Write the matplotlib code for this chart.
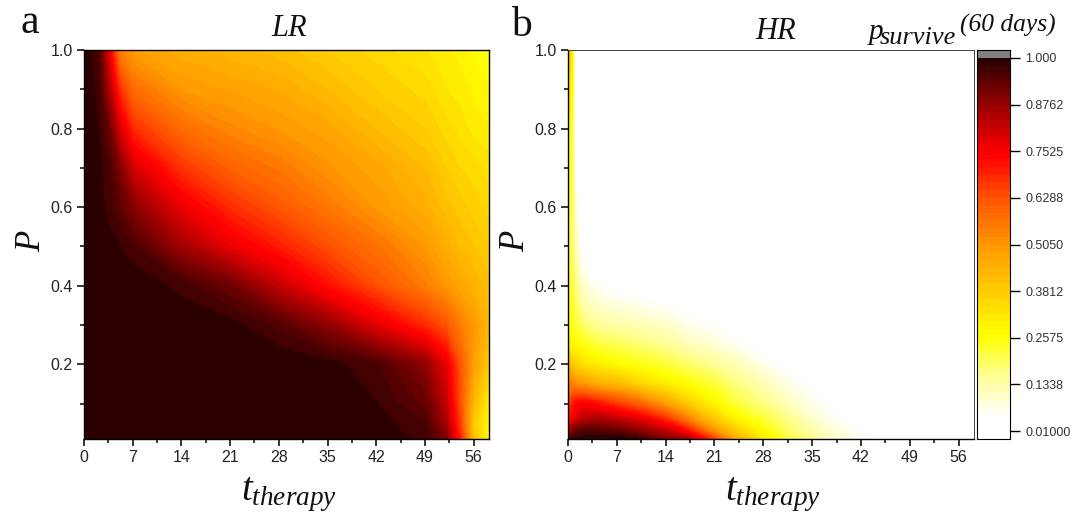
import numpy as np
import matplotlib
matplotlib.use("Agg")
import matplotlib.pyplot as plt
from matplotlib.colors import LinearSegmentedColormap, BoundaryNorm

plt.rcParams['font.family'] = ['Liberation Sans', 'DejaVu Sans']
plt.rcParams['mathtext.fontset'] = 'custom'
plt.rcParams['mathtext.it'] = 'Liberation Serif:italic'
plt.rcParams['mathtext.rm'] = 'Liberation Serif'

W, H = 1079, 519

# panel a, LR
lr_t = [0, 2, 3.5, 5, 7, 14, 21, 28, 35, 42, 49, 52, 54, 56, 58.2]
lr_p = [0.01, 0.05, 0.1, 0.2, 0.3, 0.4, 0.5, 0.6, 0.7, 0.8, 0.9, 1.0]
lr_surv = [
    [1, 1, 1, 1, 1, 1, 1, 1, 1, 1, .97, .90, .70, .40, .27],
    [1, 1, 1, 1, 1, 1, 1, 1, 1, .99, .96, .85, .65, .38, .27],
    [1, 1, 1, 1, 1, 1, 1, 1, 1, .98, .93, .82, .63, .42, .29],
    [1, 1, 1, 1, 1, 1, 1, 1, .99, .96, .88, .77, .62, .48, .38],
    [1, 1, 1, 1, 1, 1, .99, .95, .88, .78, .68, .62, .55, .50, .42],
    [1, 1, 1, 1, 1, .97, .92, .82, .72, .63, .55, .50, .47, .44, .41],
    [1, 1, .99, .98, .96, .86, .77, .70, .63, .57, .50, .45, .42, .40, .38],
    [1, .99, .97, .94, .89, .77, .68, .62, .56, .50, .45, .41, .39, .37, .35],
    [1, .99, .96, .90, .80, .67, .60, .56, .51, .47, .42, .38, .36, .35, .33],
    [1, .98, .92, .80, .68, .58, .53, .50, .47, .42, .38, .35, .33, .31, .30],
    [1, .97, .85, .68, .58, .50, .48, .46, .42, .38, .35, .32, .31, .29, .28],
    [1, .96, .77, .55, .49, .45, .43, .41, .38, .35, .32, .30, .29, .27, .26],
]

# panel b, HR
hr_t = [0, .5, 1, 2, 4, 7, 10, 14, 17, 21, 24, 28, 31, 35, 38, 42, 46, 50, 58.2]
hr_p = [0.01, 0.03, 0.06, 0.1, 0.15, 0.2, 0.25, 0.3, 0.35, 0.4, 0.45, 0.5, 0.6, 0.8, 1.0]
hr_surv = [
    [.95, .97, .98, .99, 1, 1, .97, .90, .85, .65, .45, .30, .22, .15, .10, .06, .02, .01, 0],
    [.85, .88, .92, .95, .95, .93, .89, .82, .72, .50, .38, .27, .20, .13, .09, .05, .01, 0, 0],
    [.70, .74, .78, .82, .85, .82, .78, .68, .55, .38, .29, .22, .17, .10, .06, .03, .01, 0, 0],
    [.60, .68, .72, .75, .72, .66, .60, .48, .38, .28, .22, .17, .12, .07, .04, .01, 0, 0, 0],
    [.55, .54, .52, .50, .45, .42, .36, .30, .26, .22, .17, .12, .08, .04, .02, .01, 0, 0, 0],
    [.42, .39, .36, .33, .30, .27, .25, .22, .19, .15, .12, .07, .04, .015, .01, 0, 0, 0, 0],
    [.30, .28, .27, .25, .22, .20, .18, .15, .12, .09, .06, .03, .01, 0, 0, 0, 0, 0, 0],
    [.27, .24, .22, .19, .15, .13, .12, .10, .07, .05, .03, .012, .01, 0, 0, 0, 0, 0, 0],
    [.25, .23, .20, .13, .10, .08, .07, .05, .03, .015, .01, 0, 0, 0, 0, 0, 0, 0, 0],
    [.24, .21, .17, .10, .06, .03, .025, .02, .012, .01, 0, 0, 0, 0, 0, 0, 0, 0, 0],
    [.23, .20, .14, .06, .02, .01, 0, 0, 0, 0, 0, 0, 0, 0, 0, 0, 0, 0, 0],
    [.22, .19, .12, .04, .01, 0, 0, 0, 0, 0, 0, 0, 0, 0, 0, 0, 0, 0, 0],
    [.23, .20, .08, .01, 0, 0, 0, 0, 0, 0, 0, 0, 0, 0, 0, 0, 0, 0, 0],
    [.28, .22, .01, 0, 0, 0, 0, 0, 0, 0, 0, 0, 0, 0, 0, 0, 0, 0, 0],
    [.40, .30, .01, 0, 0, 0, 0, 0, 0, 0, 0, 0, 0, 0, 0, 0, 0, 0, 0],
]

cbar_ticks = [0.01, 0.1338, 0.2575, 0.3812, 0.5050, 0.6288, 0.7525, 0.8762, 1.0]
cbar_labels = ['0.01000', '0.1338', '0.2575', '0.3812', '0.5050', '0.6288', '0.7525', '0.8762', '1.000']

cmap = LinearSegmentedColormap.from_list('surv', [
    (0.00, '#ffffff'), (0.03, '#ffffff'), (0.14, '#ffff90'), (0.25, '#ffff00'),
    (0.38, '#ffc800'), (0.50, '#ff9600'), (0.63, '#ff5000'), (0.74, '#ff0000'),
    (0.77, '#f00000'), (0.88, '#960000'), (0.95, '#5a0000'), (1.00, '#2d0000'),
], N=256)
cmap.set_under('#ffffff')
cmap.set_over('#2d0000')
levels = np.linspace(0.01, 1.0, 49)
norm = BoundaryNorm(levels, cmap.N)


def px_axes(fig, x0, y0, x1, y1):
    return fig.add_axes([x0 / W, 1 - y1 / H, (x1 - x0) / W, (y1 - y0) / H])


def px_text(fig, x, y, s, **kw):
    fig.text(x / W, 1 - y / H, s, **kw)


def heat_panel(ax, t, p, surv):
    cs = ax.contourf(t, p, np.array(surv), levels=levels, cmap=cmap, norm=norm, extend='both')
    cs.set_edgecolor('face')
    ax.set_xlim(0, 58.2)
    ax.set_ylim(0.01, 1.0)
    ax.set_xticks(np.arange(0, 57, 7))
    ax.set_xticks(np.arange(3.5, 58, 7), minor=True)
    ax.set_yticks([0.2, 0.4, 0.6, 0.8, 1.0])
    ax.set_yticks([0.1, 0.3, 0.5, 0.7, 0.9], minor=True)
    ax.tick_params(which='major', length=5.2, width=1.1, labelsize=11.5, pad=3, labelcolor='#222222')
    ax.tick_params(which='minor', length=3, width=1.1)
    for s in ax.spines.values():
        s.set_linewidth(1.0)


fig = plt.figure(figsize=(W / 100, H / 100), dpi=100)

ax_a = px_axes(fig, 84, 50, 489, 439)
heat_panel(ax_a, lr_t, lr_p, lr_surv)
ax_b = px_axes(fig, 568, 50, 974, 439)
heat_panel(ax_b, hr_t, hr_p, hr_surv)
for name in ['top', 'right']:
    ax_b.spines[name].set_linewidth(0.7)
    ax_b.spines[name].set_color('#444444')

# colour bar, drawn level by level
cax = px_axes(fig, 977, 50, 1010, 439)
cax.pcolormesh([0, 1], levels, ((levels[:-1] + levels[1:]) / 2).reshape(-1, 1), cmap=cmap, norm=norm)
cax.set_xlim(0, 1)
cax.set_ylim(-0.0112, 1.0212)
cax.axhspan(1.0, 1.0212, color='#808080', lw=0)
cax.set_xticks([])
cax.yaxis.tick_right()
cax.set_yticks(cbar_ticks)
cax.set_yticklabels(cbar_labels)
cax.tick_params(length=7, width=1.0, labelsize=9, pad=4, labelcolor='#333333')

serif = ['Liberation Serif', 'DejaVu Serif']
px_text(fig, 20, 33, 'a', family=serif, fontsize=30, color='#111111')
px_text(fig, 511, 36, 'b', family=serif, fontsize=30, color='#111111')
px_text(fig, 289, 36, 'LR', family=serif, style='italic', fontsize=22, ha='center', color='#111111')
px_text(fig, 776, 39, 'HR', family=serif, style='italic', fontsize=22, ha='center', color='#111111')
px_text(fig, 32, 241, 'P', family=serif, style='italic', fontsize=25, rotation=90, ha='center', va='center', color='#111111')
px_text(fig, 516, 241, 'P', family=serif, style='italic', fontsize=25, rotation=90, ha='center', va='center', color='#111111')
px_text(fig, 241, 500, r'$t_{therapy}$', fontsize=28, color='#111111')
px_text(fig, 725, 500, r'$t_{therapy}$', fontsize=28, color='#111111')
px_text(fig, 869, 39, 'p', family=serif, style='italic', fontsize=21, color='#111111')
px_text(fig, 880, 44, 'survive', family=serif, style='italic', fontsize=19, color='#111111')
px_text(fig, 960, 32, '(60 days)', family=serif, style='italic', fontsize=18.4, color='#111111')

fig.savefig('out.png', dpi=100)
